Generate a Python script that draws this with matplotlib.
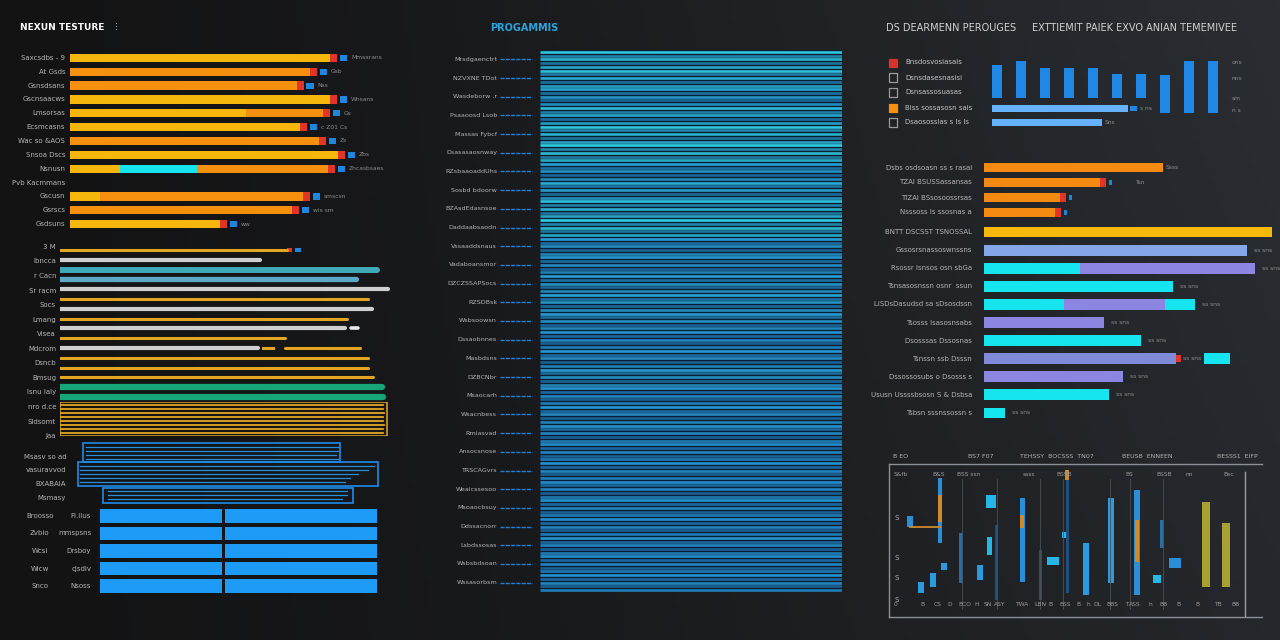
import numpy as np
import matplotlib
matplotlib.use("Agg")
import matplotlib.pyplot as plt
from matplotlib.colors import to_rgb

# ---------------- data ----------------
A_labels = ["Saxcsdbs - 9", "At Gsds", "Gsnsdsans", "Gscnsaacws", "Lmsorsas", "Ecsmcasns",
            "Wac so &AOS", "Snsoa Dscs", "Nsnusn", "Pvb Kacmmans", "Gscusn", "Gsrscs", "Gsdsuns"]
A_total = [81.3, 75.0, 70.9, 81.3, 79.1, 71.9, 77.8, 83.8, 80.6, 0, 72.8, 69.4, 46.9]
A_yellow = [81.3, 0, 0, 81.3, 55.0, 71.9, 0, 83.8, 15.6, 0, 9.4, 0, 46.9]
A_cyan = [0, 0, 0, 0, 0, 0, 0, 0, 24.1, 0, 0, 0, 0]
A_vlabels = ["Mmsxrans", "Gsb", "Nss", "Whsans", "Gs", "c Z01 Cs", "Zs", "Zbs",
             "Zncasbsaes", "", "smscsn", "wis sm", "ww"]

B_labels = ["3 M", "Ibncca", "r Cacn", "Sr racm", "Socs", "Lmang", "Visea", "Mdcrom",
            "Dsncb", "Bmsug", "Isnu laly", "nro d.ce", "Sldsomt", "Jaa"]
B_end = [67.8, 59.7, 94.6, 88.4, 97.9, 91.9, 93.1, 85.7, 85.1, 67.2, 59.1, 91.9, 91.9, 93.4, 96.1, 96.4]
B_kind = ["y", "g", "t", "s", "g", "y", "g", "y", "g", "y", "g", "y", "y", "y", "e", "e"]
B_box_end = [96.5, 96.5, 96.8, 96.5, 96.5, 96.8, 96.5, 96.5]

C_labels = ["Msasv so ad", "vasuravvod", "BXABAIA", "Msmasy"]
C_box_left = [4.1, 2.5, 10.3]
C_box_right = [84.4, 96.3, 88.4]
C_line_left = [5.0, 5.0, 5.0, 5.0, 3.0, 3.0, 3.0, 3.0, 3.0, 12.0, 12.0, 12.0]
C_line_right = [83.8, 83.8, 83.0, 83.8, 95.0, 93.0, 90.0, 87.5, 86.0, 86.5, 86.5, 85.0]

D_labels1 = ["Broosso", "Zvbio", "Wcsi", "Wicw", "Snco"]
D_labels2 = ["Fl.ilus", "mmspsns", "Drsboy", "cjsdiv", "Nsoss"]
D_col1 = [44.0, 44.0, 44.0, 44.0, 44.0]
D_col2 = [54.9, 54.9, 54.9, 54.9, 54.9]

M_labels = ["Mrsdgaenctrt", "NZVXNE TDot", "Wasdeborw .r", "Psaaoosd Lsob", "Massas Fybcf",
            "Dsasasaosnway", "RZsbaaoaddUhs", "Sosbd bdoorw", "BZAsdEdasnsoe", "Daddaabsaodn",
            "Vssaaddsnaus", "Vadaboansmor", "DZCZSSAPSocs", "RZSDBsk", "Wsbsoowsn",
            "Dssaobnnes", "Masbdsns", "DZBCNbr", "Msaocarh", "Wsacnbess", "Rmiasvad",
            "Ansocsnose", "TRSCAGvrs", "Weaicssesoo", "Msoaocbsuy", "Ddssacnorr",
            "Lsbdssosas", "Wsbsbdsoan", "Wssasorbsm"]
M_levels = [0.9, 0.8, 0.5, 0.75, 0.9, 1.0, 0.45, 0.6, 0.85, 0.95, 0.4, 0.35, 0.45, 0.5, 0.4,
            0.3, 0.35, 0.4, 0.3, 0.35, 0.3, 0.25, 0.3, 0.25, 0.3, 0.25, 0.3, 0.25, 0.3]

L_labels = ["Bnsdosvosiasais", "Dsnsdasesnasisi", "Dsnsassosuasas", "Biss sossasosn sais", "Dsaosossias s ls ls"]
V_bottom = [20, 20, 20, 20, 20, 20, 20, 5, 5, 5]
V_top = [53, 57, 50, 50, 50, 44, 44, 43, 57, 57]
HB_vals = [54.8, 44.4]

R1_labels = ["Dsbs osdsoasn ss s rasai", "TZAI BSUSSassansas", "TIZAI BSsosoossrsas", "Nsssoss Is ssosnas a"]
R1_vals = [61.5, 39.9, 26.1, 24.4]
R2_labels = ["BNTT DSCSST TSNOSSAL", "Gssosrsnassoswnssns", "Rsossr Isnsos osn sbGa", "Tsnsasosnssn osnr  ssun",
             "LiSDsDasudsd sa sDsosdssn", "Tsosss Isasosnsabs", "Dsosssas Dssosnas",
             "Tsnssn ssb Dsssn", "Dssossosubs o Dsosss s", "Ususn Ussssbsosn S & Dsbsa", "Tsbsn sssnssossn s"]
R2_gold = [99.0, 0, 0, 0, 0, 0, 0, 0, 0, 0, 0]
R2_cyan_a = [0, 0, 33.0, 64.9, 27.5, 0, 54.0, 0, 0, 43.0, 7.2]
R2_purple = [0, 90.4, 60.1, 0, 34.7, 41.2, 0, 66.0, 47.8, 0, 0]
R2_cyan_b = [0, 0, 0, 0, 10.3, 0, 0, 0, 0, 0, 0]
R2_float = [0, 0, 0, 0, 0, 0, 0, 8.9, 0, 0, 0]

BB_x = [21, 51, 72, 102, 100, 91, 107, 44, 32, 55, 133, 151, 164, 175, 178, 197, 222, 248, 268, 273, 286, 317, 337]
BB_w = [6, 4, 4, 10, 5, 6, 3, 6, 6, 6, 5, 3, 12, 5, 3, 6, 6, 6, 8, 4, 12, 8, 8]
BB_bottom = [90, 74, 34, 109, 62, 37, 17, 30, 24, 47, 35, 17, 52, 79, 24, 22, 34, 22, 34, 69, 49, 30, 30]
BB_top = [101, 139, 84, 122, 80, 52, 92, 44, 35, 54, 119, 67, 60, 85, 147, 74, 119, 127, 42, 97, 59, 115, 94]
BB_kind = ["b", "b", "d", "c", "c", "m", "k", "m", "m", "m", "b", "k", "c", "c", "k", "m", "m", "b", "c", "s", "b", "o", "o"]
BB_or_x = [51, 133, 248, 178]
BB_or_bottom = [95, 89, 55, 137]
BB_or_top = [122, 102, 97, 147]
BB_ticks = ["0", "B", "CS", "D", "BCO", "H", "SN", "ASY", "TWA", "LBN", "B", "BSS", "B", "h",
            "DL", "BBS", "T", "ASS", "h", "BB", "B", "B", "TB", "BB"]
BB_tick_x = [7, 33, 49, 61, 76, 88, 99, 111, 133, 151, 161, 176, 189, 199, 208, 223, 238, 246,
             261, 274, 289, 308, 329, 346]

# ---------------- figure ----------------
W, H = 1280, 640
fig = plt.figure(figsize=(12.8, 6.4), dpi=100)
fig.patch.set_facecolor("#1b1c1f")

bg = fig.add_axes([0, 0, 1, 1])
bg.axis("off")
gx = np.linspace(0, 1, 256)
gy = np.linspace(0, 1, 128)
cl = np.array([19, 19, 20]) / 255
cr = np.array([42, 46, 51]) / 255
img = cl[None, None, :] + (cr - cl)[None, None, :] * (gx[None, :, None] ** 1.3) * (1 - 0.25 * gy[:, None, None])
bg.imshow(img, aspect="auto", extent=[0, 1, 0, 1], zorder=-10)
bg.set_xlim(0, 1)
bg.set_ylim(0, 1)

LBL = "#b4b4b4"
FS = 5


def add_ax(x0, y0, x1, y1):
    ax = fig.add_axes([x0 / W, 1 - y1 / H, (x1 - x0) / W, (y1 - y0) / H])
    ax.set_facecolor("none")
    ax.axis("off")
    return ax


def ftext(x, y, s, **kw):
    fig.text(x / W, 1 - y / H, s, **kw)


def ylabel(ax, x, y, s, **kw):
    kw.setdefault("fontsize", FS)
    kw.setdefault("color", LBL)
    kw.setdefault("ha", "right")
    ax.text(x, y, s, transform=ax.get_yaxis_transform(), va="center", clip_on=False, **kw)


YEL = "#f6b60c"
ORA = "#f5900f"
CYA = "#16e4ef"
RED = "#e3342a"
BLU = "#1f86e0"

# ---------- Panel A ----------
ftext(20, 28, "NEXUN TESTURE", fontsize=6.5, color="white", fontweight="bold", va="center")
ftext(115, 28, "⁝", fontsize=7, color="#c8c8c8", va="center")
axA = add_ax(70, 51, 390, 231)
n = len(A_total)
axA.set_xlim(0, 100)
axA.set_ylim(n - 0.5, -0.5)
for i in range(n):
    tot = A_total[i]
    ylabel(axA, -0.015, i, A_labels[i])
    if tot <= 0:
        continue
    y0 = A_yellow[i]
    c0 = A_cyan[i]
    axA.barh(i, y0, left=0, height=0.6, color=YEL)
    axA.barh(i, c0, left=y0, height=0.6, color=CYA)
    axA.barh(i, tot - y0 - c0, left=y0 + c0, height=0.6, color=ORA)
    axA.barh(i, 2.2, left=tot, height=0.6, color=RED)
    axA.barh(i, 2.4, left=tot + 3.0, height=0.45, color=BLU)
    axA.text(tot + 6.5, i, A_vlabels[i], fontsize=4.3, color="#8c8c8c", va="center")

# ---------- Panel B ----------
axB = add_ax(60, 245, 395, 402)
nb = len(B_end)
axB.set_xlim(0, 100)
axB.set_ylim(nb - 0.5, -0.5)
kcol = {"y": "#e3a622", "g": "#cfcfcf", "t": "#3fa9b8", "s": "#5ba9c6", "e": "#16a67a"}
kw_ = {"y": 2.2, "g": 3.0, "t": 4.3, "s": 3.8, "e": 4.5}
for i in range(nb):
    axB.plot([0, B_end[i]], [i, i], color=kcol[B_kind[i]], lw=kw_[B_kind[i]], solid_capstyle="round")
axB.plot([67.2, 89.6], [10, 10], color=kcol["y"], lw=2.2, solid_capstyle="round")
axB.plot([60.5, 63.5], [10, 10], color=kcol["y"], lw=2.2)
axB.barh(0, 1.6, left=67.8, height=0.45, color=RED)
axB.barh(0, 1.8, left=70.0, height=0.45, color=BLU)
axB.plot([86.8, 89.0], [8, 8], color="#e8e8e8", lw=2.6, solid_capstyle="round")
axBl = add_ax(20, 243, 60, 440)
for s, yy in zip(B_labels, np.linspace(0.98, 0.02, len(B_labels))):
    axBl.text(0.9, yy, s, transform=axBl.transAxes, ha="right", va="center", fontsize=FS, color=LBL)

axBox = add_ax(60, 402, 395, 436)
axBox.set_xlim(0, 100)
nbx = len(B_box_end)
axBox.set_ylim(nbx - 0.3, -0.7)
for i in range(nbx):
    axBox.plot([0, B_box_end[i]], [i, i], color="#e3a622", lw=1.3)
axBox.barh((nbx - 1) / 2, 97.6, height=nbx + 0.3, left=0, fill=False, edgecolor="#e3a622", lw=1.1)

# ---------- Panel C ----------
axC = add_ax(70, 440, 390, 506)
axC.set_xlim(0, 100)
axC.set_ylim(66, 0)
box_c = [12.5, 34, 55.5]
box_h = [19, 24, 15]
for l, r, yc, hh in zip(C_box_left, C_box_right, box_c, box_h):
    axC.barh(yc, r - l, left=l, height=hh, fill=False, edgecolor="#1e8be8", lw=1.2)
line_y = [7, 11, 15, 19, 26, 30, 34, 38, 42, 51, 55, 59]
for l, r, yy in zip(C_line_left, C_line_right, line_y):
    axC.plot([l, r], [yy, yy], color="#2a9cf0", lw=0.9, alpha=0.9)
for s, yy in zip(C_labels, [17, 30, 44, 58]):
    axC.text(-0.012, yy, s, transform=axC.get_yaxis_transform(), ha="right", va="center",
             fontsize=FS, color=LBL)

# ---------- Panel D ----------
axD = add_ax(100, 507, 377, 595)
axD.set_xlim(0, 100)
nd = len(D_col1)
axD.set_ylim(nd - 0.5, -0.5)
for i in range(nd):
    axD.barh(i, D_col1[i], left=0, height=0.77, color="#1d9bf7")
    axD.barh(i, D_col2[i], left=D_col1[i] + 1.1, height=0.77, color="#1d9bf7")
    ylabel(axD, -0.217, i, D_labels1[i], ha="center")
    ylabel(axD, -0.032, i, D_labels2[i])

# ---------- Middle panel ----------
ftext(490, 28, "PROGAMMIS", fontsize=7, color="#2ba3dc", fontweight="bold", va="center")
axM = fig.add_axes([540 / W, 1 - 592 / H, 302 / W, 542 / H])
axM.set_facecolor("#0c1e34")
axM.set_xticks([])
axM.set_yticks([])
for sp in axM.spines.values():
    sp.set_visible(False)
nm = len(M_levels)
axM.set_xlim(0, 100)
axM.set_ylim(nm, 0)
blue = np.array(to_rgb("#1f78c4"))
cyan = np.array(to_rgb("#30cfe0"))
dim = np.array(to_rgb("#133e6c"))
pattern = [1.0, 0.5, 0.85, 0.4, 0.75]
for i in range(nm):
    base = blue + (cyan - blue) * M_levels[i]
    for j, p in enumerate(pattern):
        col = dim + (base - dim) * p
        yy = i + (j + 0.5) / 5
        axM.plot([0, 100], [yy, yy], color=col, lw=1.9, solid_capstyle="butt")
    ylabel(axM, -0.142, i + 0.5, M_labels[i], fontsize=4.6)
    axM.plot([-0.132, -0.026], [i + 0.5, i + 0.5], transform=axM.get_yaxis_transform(),
             color="#1f7fd0", lw=1.0, ls=(0, (3, 0.8)), clip_on=False)

# ---------- Right top ----------
ftext(886, 28, "DS DEARMENN PEROUGES", fontsize=7, color="#d2d2d2", va="center")
ftext(1032, 28, "EXTTIEMIT PAIEK EXVO ANIAN TEMEMIVEE", fontsize=7, color="#d2d2d2", va="center")
axL = add_ax(880, 55, 980, 130)
axL.set_xlim(0, 100)
nl = len(L_labels)
axL.set_ylim(nl - 0.5, -0.5)
icon_fc = ["#d8322a", "none", "none", "#f5900f", "none"]
icon_ec = ["#d8322a", "#9a9a9a", "#9a9a9a", "#f5900f", "#9a9a9a"]
for i in range(nl):
    axL.scatter([13], [i], marker="s", s=38, facecolor=icon_fc[i], edgecolor=icon_ec[i], lw=0.9)
    axL.text(25, i, L_labels[i], fontsize=FS, color="#c4c4c4", va="center")

axV = add_ax(985, 55, 1225, 118)
nv = len(V_top)
axV.set_xlim(-0.5, nv - 0.5)
axV.set_ylim(0, 63)
axV.bar(np.arange(nv), np.array(V_top) - np.array(V_bottom), bottom=V_bottom, width=0.42, color="#1f87e6")
for s, yy in zip(["ons", "nns", "sm", "n s"], [62, 78, 98, 110]):
    ftext(1232, yy, s, fontsize=4.3, color="#8c8c8c", va="center")

axHB = add_ax(992, 101, 1240, 130)
axHB.set_xlim(0, 100)
axHB.set_ylim(1.5, -0.5)
axHB.barh([0, 1], HB_vals, height=0.5, color="#66b2ff")
axHB.barh(0, 2.5, left=HB_vals[0] + 1, height=0.35, color="#1f87e6")
axHB.text(HB_vals[0] + 5, 0, "s ns", fontsize=4.3, color="#8c8c8c", va="center")
axHB.text(HB_vals[1] + 1, 1, "Sns", fontsize=4.3, color="#8c8c8c", va="center")

# ---------- Right middle ----------
axR1 = add_ax(984, 160, 1275, 220)
axR1.set_xlim(0, 100)
n1 = len(R1_vals)
axR1.set_ylim(n1 - 0.5, -0.5)
for i in range(n1):
    axR1.barh(i, R1_vals[i], height=0.66, color="#f58a12")
    if i > 0:
        axR1.barh(i, 2.0, left=R1_vals[i], height=0.6, color=RED)
        axR1.barh(i, 1.2, left=R1_vals[i] + 3, height=0.3, color=BLU)
    ylabel(axR1, -0.041, i, R1_labels[i])
axR1.text(R1_vals[0] + 1, 0, "Ssss", fontsize=4.3, color="#8c8c8c", va="center")
axR1.text(52, 1, "Tsn", fontsize=4.3, color="#8c8c8c", va="center")

axR2 = add_ax(984, 223, 1275, 422)
axR2.set_xlim(0, 100)
n2 = len(R2_gold)
axR2.set_ylim(n2 - 0.5, -0.5)
PUR = "#8c86e2"
for i in range(n2):
    h = 0.6
    axR2.barh(i, R2_gold[i], height=h, color="#f7b90c")
    axR2.barh(i, R2_cyan_a[i], height=h, color=CYA)
    pcol = "#86a6ea" if i == 1 else ("#7f8ad8" if i == 7 else PUR)
    axR2.barh(i, R2_purple[i], left=R2_cyan_a[i], height=h, color=pcol)
    axR2.barh(i, R2_cyan_b[i], left=R2_cyan_a[i] + R2_purple[i], height=h, color=CYA)
    end = R2_gold[i] + R2_cyan_a[i] + R2_purple[i] + R2_cyan_b[i]
    if R2_float[i] > 0:
        axR2.barh(i, 1.8, left=end, height=0.4, color=RED)
        axR2.barh(i, R2_float[i], left=75.6, height=h, color=CYA)
    if i > 0:
        axR2.text(end + 2.5, i, "ss sns", fontsize=4.3, color="#8c8c8c", va="center")
    ylabel(axR2, -0.041, i, R2_labels[i])

# ---------- Right bottom box ----------
axBB = fig.add_axes([889 / W, 1 - 617 / H, 373 / W, 153 / H])
axBB.set_facecolor("none")
axBB.set_xlim(0, 373)
axBB.set_ylim(0, 153)
axBB.set_xticks([])
axBB.set_yticks([])
for k, sp in axBB.spines.items():
    sp.set_color("#8a9098")
    sp.set_linewidth(1.0)
axBB.spines["right"].set_visible(False)
axBB.axvline(356, color="#9aa0a8", lw=1.0, ymax=0.95)
for gxv in [73, 108, 151, 174, 221, 241, 274]:
    axBB.axvline(gxv, color="#4a4f56", lw=0.6, ymin=0.05, ymax=0.9)
bcol = {"b": "#2a8ed8", "d": "#1f6fb0", "c": "#27b7e6", "m": "#2a9be0", "k": "#1d4f80",
        "s": "#2a6fa0", "o": "#a9a232"}
axBB.bar(BB_x, np.array(BB_top) - np.array(BB_bottom), bottom=BB_bottom, width=BB_w,
         color=[bcol[k] for k in BB_kind])
axBB.bar(BB_or_x, np.array(BB_or_top) - np.array(BB_or_bottom), bottom=BB_or_bottom, width=4,
         color="#d08a2a")
axBB.plot([21, 51], [90, 90], color="#d08a2a", lw=1.3)
for s, xx in zip(BB_ticks, BB_tick_x):
    axBB.text(xx, 13, s, fontsize=4.3, color="#9a9a9a", ha="center", va="center")
for yy in [99, 59, 39, 17]:
    axBB.text(8, yy, "S", fontsize=5, color="#b0b0b0", ha="center", va="center")
for s, xx in zip(["S&fb", "B&S", "BSS ssn", "ssss", "BSSB", "BS", "BSSB", "nn", "Bsc"],
                 [12, 50, 80, 140, 175, 240, 275, 300, 340]):
    axBB.text(xx, 143, s, fontsize=4.3, color="#9a9a9a", ha="center", va="center")
for s, xx in [("B EO", 893), ("BS7 F07", 968), ("TEHSSY  BOCSSS  TN07", 1020),
              ("BEUSB  ENNEEN", 1122), ("BESSS1  EIFP", 1217)]:
    ftext(xx, 457, s, fontsize=4.5, color="#b0b0b0", va="center")

fig.savefig("out.png", dpi=100, facecolor=fig.get_facecolor())
